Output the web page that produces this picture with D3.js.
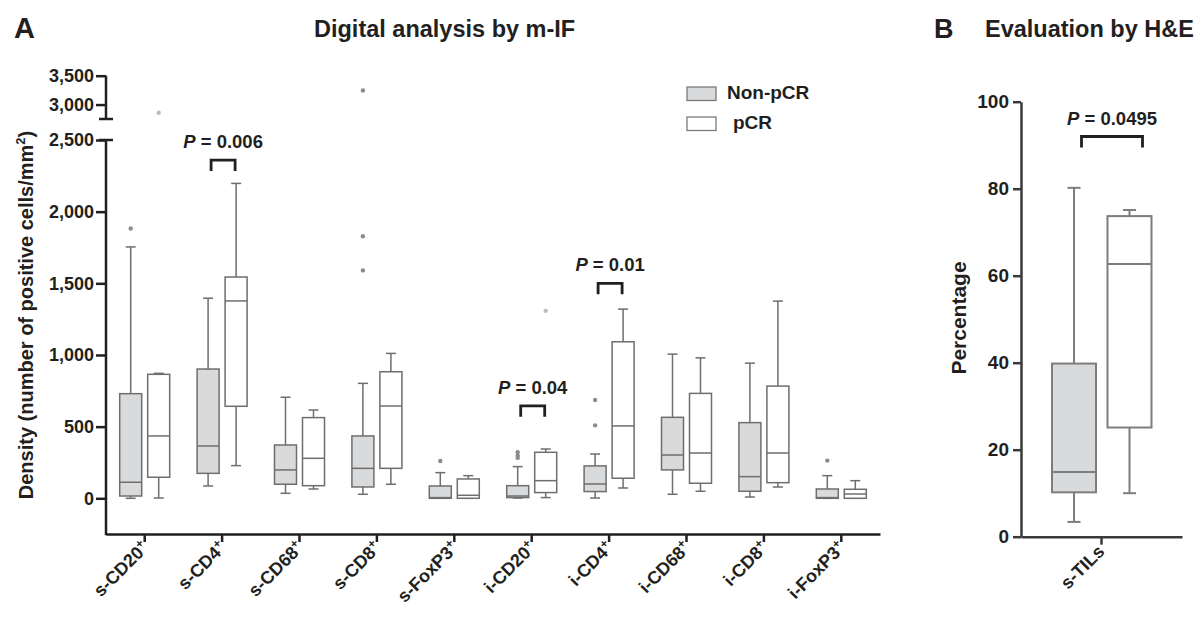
<!DOCTYPE html>
<html>
<head>
<meta charset="utf-8">
<script src="https://cdn.jsdelivr.net/npm/d3@7"></script>
<style>
  body { margin: 0; background: #fff; }
  text { font-family: 'Liberation Sans', Arial, sans-serif; font-weight: bold; fill: #231f20; }
</style>
</head>
<body>
<div id="main"></div>
<script>
// data: [min, q1, median, q3, max]
const categories = ['s-CD20', 's-CD4', 's-CD68', 's-CD8', 's-FoxP3', 'i-CD20', 'i-CD4', 'i-CD68', 'i-CD8', 'i-FoxP3'];
const nonPcrBoxes = [
  [0, 16, 112, 730, 1754],
  [86, 174, 365, 902, 1396],
  [35, 98, 198, 372, 705],
  [28, 79, 209, 435, 802],
  [0, 0, 5, 86, 179],
  [2, 5, 16, 88, 221],
  [2, 47, 100, 226, 309],
  [28, 198, 302, 565, 1006],
  [9, 49, 151, 528, 943],
  [0, 0, 5, 65, 158]
];
const pcrBoxes = [
  [2, 147, 435, 865, 872],
  [228, 642, 1377, 1544, 2197],
  [65, 88, 279, 563, 616],
  [98, 209, 644, 883, 1011],
  [0, 0, 21, 135, 158],
  [5, 40, 123, 321, 344],
  [72, 140, 505, 1092, 1320],
  [49, 105, 316, 732, 980],
  [79, 109, 316, 783, 1376],
  [0, 0, 30, 63, 123]
];
const nonPcrOutliers = [['s-CD20', 1883], ['s-CD8', 3244], ['s-CD8', 1828], ['s-CD8', 1590], ['s-FoxP3', 260],
  ['i-CD20', 322], ['i-CD20', 298], ['i-CD20', 282], ['i-CD4', 686], ['i-CD4', 509], ['i-FoxP3', 263]];
const pcrOutliers = [['s-CD20', 2858], ['i-CD20', 1308]];
const lowerTicks = [0, 500, 1000, 1500, 2000, 2500];
const upperTicks = [3000, 3500];
const pCats = ['s-CD4', 'i-CD20', 'i-CD4'];
const pLabels = ['0.006', '0.04', '0.01'];
const pBracketTop = [2360, 645, 1500];

const tilsCategory = ['s-TILs'];
const tilsNonPcr = [3.4, 10.2, 14.9, 39.8, 80.2];
const tilsPcr = [10, 25.1, 62.7, 73.7, 75.1];
const tilsTicks = [0, 20, 40, 60, 80, 100];
const tilsP = '0.0495';
const tilsBracketTop = [92];

const grayFill = '#d9dadc';
const boxStroke = '#6e6e6e';
const axisColor = '#231f20';

const svg = d3.select('#main')
  .append('svg')
  .attr('width', 1202)
  .attr('height', 617);

// ---------- panel A ----------
const axA = { left: 106, right: 880, bottom: 534 };
const xA = d3.scaleBand().domain(categories).range([axA.left, axA.right]);
const yLower = d3.scaleLinear().domain([0, 2500]).range([498.3, 140]);
const yUpper = d3.scaleLinear().domain([2750, 3500]).range([119, 75.7]);
const yA = (v) => v > 2600 ? yUpper(v) : yLower(v);
const cxA = (c) => xA(c) + xA.bandwidth() / 2;

function drawBoxes(g, stats, cats, cx, y, offset, width, fill, stroke, sw, cap) {
  stats.forEach((s, i) => {
    const x = cx(cats[i]) + offset;
    const [mn, q1, md, q3, mx] = s;
    const grp = g.append('g')
      .attr('stroke', stroke)
      .attr('stroke-width', sw);
    grp.append('line').attr('x1', x).attr('x2', x).attr('y1', y(mx)).attr('y2', y(q3));
    grp.append('line').attr('x1', x).attr('x2', x).attr('y1', y(q1)).attr('y2', y(mn));
    grp.append('line').attr('x1', x - cap / 2).attr('x2', x + cap / 2).attr('y1', y(mx)).attr('y2', y(mx));
    grp.append('line').attr('x1', x - cap / 2).attr('x2', x + cap / 2).attr('y1', y(mn)).attr('y2', y(mn));
    grp.append('rect')
      .attr('x', x - width / 2)
      .attr('y', y(q3))
      .attr('width', width)
      .attr('height', Math.max(y(q1) - y(q3), 1))
      .attr('fill', fill);
    grp.append('line').attr('x1', x - width / 2).attr('x2', x + width / 2).attr('y1', y(md)).attr('y2', y(md));
  });
}

const gA = svg.append('g');
drawBoxes(gA, nonPcrBoxes, categories, cxA, yA, -14, 22, grayFill, boxStroke, 1.5, 10);
drawBoxes(gA, pcrBoxes, categories, cxA, yA, 14, 22, '#fff', boxStroke, 1.5, 10);

gA.selectAll('circle.np')
  .data(nonPcrOutliers)
  .enter()
  .append('circle')
  .attr('cx', (d) => cxA(d[0]) - 14)
  .attr('cy', (d) => yA(d[1]))
  .attr('r', 2.2)
  .attr('fill', '#8c8c8c');
gA.selectAll('circle.p')
  .data(pcrOutliers)
  .enter()
  .append('circle')
  .attr('cx', (d) => cxA(d[0]) + 14)
  .attr('cy', (d) => yA(d[1]))
  .attr('r', 2.2)
  .attr('fill', '#bdbdbd');

// y axis (broken)
const yAxisLower = gA.append('g')
  .attr('transform', `translate(${axA.left}, 0)`)
  .call(d3.axisLeft(yLower).tickValues(lowerTicks).tickFormat(d3.format(',')).tickSize(10).tickPadding(2));
const yAxisUpper = gA.append('g')
  .attr('transform', `translate(${axA.left}, 0)`)
  .call(d3.axisLeft(yUpper).tickValues(upperTicks).tickFormat(d3.format(',')).tickSize(10).tickPadding(2));
[yAxisLower, yAxisUpper].forEach((a) => {
  a.select('.domain').remove();
  a.selectAll('line').attr('stroke', axisColor).attr('stroke-width', 2.5);
  a.selectAll('text').attr('font-size', 18).attr('font-family', null).attr('fill', axisColor);
});
gA.append('line')
  .attr('x1', axA.left).attr('x2', axA.left)
  .attr('y1', yLower(2500)).attr('y2', axA.bottom + 1.2)
  .attr('stroke', axisColor).attr('stroke-width', 2.5);
gA.append('line')
  .attr('x1', axA.left).attr('x2', axA.left)
  .attr('y1', yUpper(3500)).attr('y2', yUpper(2750))
  .attr('stroke', axisColor).attr('stroke-width', 2.5);
// break marks
[yUpper(2750), yLower(2500)].forEach((yy) => {
  gA.append('line')
    .attr('x1', axA.left - 7).attr('x2', axA.left + 7)
    .attr('y1', yy).attr('y2', yy)
    .attr('stroke', axisColor).attr('stroke-width', 2.5);
});

// x axis
const xAxisA = gA.append('g')
  .attr('transform', `translate(0, ${axA.bottom})`)
  .call(d3.axisBottom(xA).tickSize(8).tickSizeOuter(0).tickFormat(''));
xAxisA.select('.domain').attr('stroke', axisColor).attr('stroke-width', 2.5);
xAxisA.selectAll('line').attr('stroke', axisColor).attr('stroke-width', 2.5);

function rotatedLabel(g, x, y, name) {
  const t = g.append('text')
    .attr('transform', `translate(${x}, ${y}) rotate(-45)`)
    .attr('text-anchor', 'end')
    .attr('font-size', 18);
  t.append('tspan').text(name);
  if (name.indexOf('TIL') < 0) {
    t.append('tspan').attr('dy', -7).attr('font-size', 12).text('+');
  }
}
categories.forEach((c) => rotatedLabel(gA, cxA(c) + 5, axA.bottom + 15, c));

// axis title
const titleA = gA.append('text')
  .attr('transform', 'translate(33, 315) rotate(-90)')
  .attr('text-anchor', 'middle')
  .attr('font-size', 20);
titleA.append('tspan').text('Density (number of positive cells/mm');
titleA.append('tspan').attr('dy', -8).attr('font-size', 13).text('2');
titleA.append('tspan').attr('dy', 8).text(')');

// p-value brackets
function bracket(g, x0, x1, yTop, label) {
  g.append('path')
    .attr('d', `M${x0},${yTop + 11}V${yTop}H${x1}V${yTop + 11}`)
    .attr('fill', 'none')
    .attr('stroke', axisColor)
    .attr('stroke-width', 2.8);
  const t = g.append('text')
    .attr('x', (x0 + x1) / 2)
    .attr('y', yTop - 12)
    .attr('text-anchor', 'middle')
    .attr('font-size', 18.5);
  t.append('tspan').attr('font-style', 'italic').text('P');
  t.append('tspan').text(` = ${label}`);
}
pCats.forEach((c, i) => bracket(gA, cxA(c) - 11, cxA(c) + 13, yLower(pBracketTop[i]), pLabels[i]));

// legend
const legend = gA.append('g').attr('transform', 'translate(687, 87)');
[['Non-pCR', grayFill, 0], ['pCR', '#fff', 30]].forEach(([name, fill, dy]) => {
  legend.append('rect')
    .attr('x', 0).attr('y', dy)
    .attr('width', 29).attr('height', 13.5)
    .attr('fill', fill)
    .attr('stroke', '#7a7a7a')
    .attr('stroke-width', 1.3);
  legend.append('text')
    .attr('x', name === 'pCR' ? 46 : 40)
    .attr('y', dy + 12)
    .attr('font-size', 19)
    .text(name);
});

// panel titles
svg.append('text').attr('x', 14).attr('y', 38).attr('font-size', 29).text('A');
svg.append('text').attr('x', 314).attr('y', 37).attr('font-size', 23.5).text('Digital analysis by m-IF');
svg.append('text').attr('x', 934).attr('y', 38).attr('font-size', 27).text('B');
svg.append('text').attr('x', 985).attr('y', 37).attr('font-size', 23.5).text('Evaluation by H&E');

// ---------- panel B ----------
const axB = { left: 1021, right: 1182, bottom: 536.7 };
const xB = d3.scaleBand().domain(tilsCategory).range([axB.left, axB.right]);
const yB = d3.scaleLinear().domain([0, 100]).range([536.7, 101.7]);
const cxB = (c) => xB(c) + xB.bandwidth() / 2;
const gB = svg.append('g');

drawBoxes(gB, [tilsNonPcr], tilsCategory, cxB, yB, -27.5, 44, grayFill, '#7d7d7d', 2, 13);
drawBoxes(gB, [tilsPcr], tilsCategory, cxB, yB, 28, 44, '#fff', '#7d7d7d', 2, 13);

const yAxisB = gB.append('g')
  .attr('transform', `translate(${axB.left}, 0)`)
  .call(d3.axisLeft(yB).tickValues(tilsTicks).tickSize(8).tickSizeOuter(0).tickPadding(4));
yAxisB.select('.domain').attr('stroke', '#3a3a3a').attr('stroke-width', 2.5);
yAxisB.selectAll('line').attr('stroke', '#3a3a3a').attr('stroke-width', 2.5);
yAxisB.selectAll('text').attr('font-size', 19).attr('font-family', null).attr('fill', axisColor);

const xAxisB = gB.append('g')
  .attr('transform', `translate(0, ${axB.bottom})`)
  .call(d3.axisBottom(xB).tickSize(8).tickSizeOuter(0).tickFormat(''));
xAxisB.select('.domain').attr('stroke', '#3a3a3a').attr('stroke-width', 2.5);
xAxisB.selectAll('line').attr('stroke', '#3a3a3a').attr('stroke-width', 2.5);
rotatedLabel(gB, cxB('s-TILs') + 4, axB.bottom + 16, 's-TILs');

gB.append('text')
  .attr('transform', 'translate(966, 318) rotate(-90)')
  .attr('text-anchor', 'middle')
  .attr('font-size', 21)
  .text('Percentage');

bracket(gB, cxB('s-TILs') - 20, cxB('s-TILs') + 41, yB(tilsBracketTop[0]), tilsP);
</script>
</body>
</html>
